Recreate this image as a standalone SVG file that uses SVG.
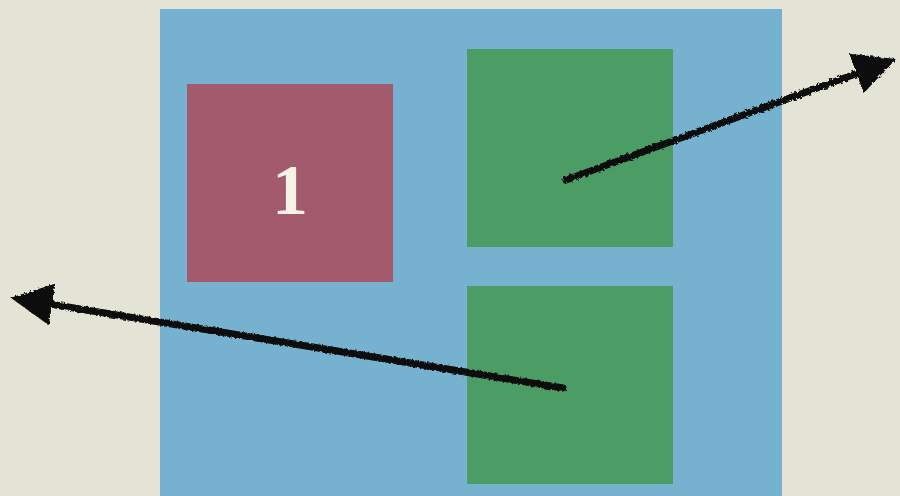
<svg xmlns="http://www.w3.org/2000/svg" width="900" height="496" viewBox="0 0 900 496">
<style>
.bg{fill:#e3e3d6}
.blue{fill:#76b2cf}
.red{fill:#a35a6d}
.green{fill:#4c9c66}
.lbl{font-family:"Liberation Serif","DejaVu Serif",serif;font-weight:bold;font-size:72px;fill:#f6f3e6;text-anchor:middle}
.edge{stroke:#0a0a0a;stroke-width:7;fill:none;stroke-linecap:round}
</style>
<defs>
<filter id="rough" x="-5%" y="-20%" width="110%" height="140%">
<feTurbulence type="fractalNoise" baseFrequency="0.35" numOctaves="2" seed="3"/>
<feDisplacementMap in="SourceGraphic" scale="4"/>
</filter>
<marker id="ah" viewBox="0 0 10 10" refX="8" refY="5" markerWidth="6" markerHeight="6" orient="auto-start-reverse" markerUnits="strokeWidth">
<path d="M0,0 L10,5 L0,10 Z" fill="#0a0a0a"/>
</marker>
</defs>
<rect class="bg" x="0" y="0" width="900" height="496"/>
<g id="container"><rect class="blue" x="160" y="9" width="622" height="490"/></g>
<g id="node1"><rect class="red" x="187" y="84" width="206" height="198"/><text class="lbl" x="290" y="214">1</text></g>
<g id="node2"><rect class="green" x="467" y="49" width="206" height="198"/></g>
<g id="node3"><rect class="green" x="467" y="286" width="206" height="198"/></g>
<g id="connectors" filter="url(#rough)">
<line class="edge" x1="566" y1="180" x2="888" y2="62" marker-end="url(#ah)"/>
<line class="edge" x1="563" y1="388" x2="19" y2="299" marker-end="url(#ah)"/>
</g>
</svg>
